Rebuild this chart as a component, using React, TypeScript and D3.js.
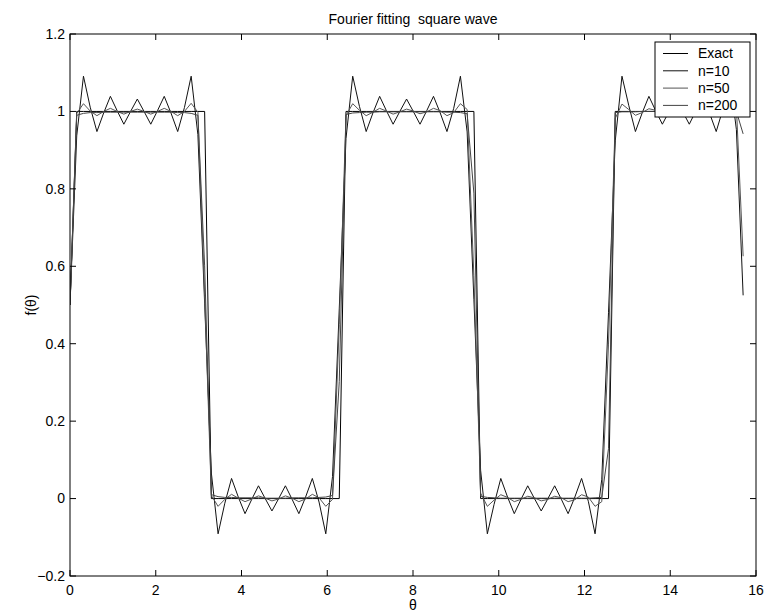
import React from "react";
import * as d3 from "d3";

// sample points (rad)
const theta = [
  0, 0.157, 0.314, 0.471, 0.628, 0.785, 0.942, 1.099, 1.256, 1.413,
  1.57, 1.727, 1.884, 2.041, 2.198, 2.355, 2.512, 2.669, 2.826, 2.983,
  3.14, 3.297, 3.454, 3.611, 3.768, 3.925, 4.082, 4.239, 4.396, 4.553,
  4.71, 4.867, 5.024, 5.181, 5.338, 5.495, 5.652, 5.809, 5.966, 6.123,
  6.28, 6.437, 6.594, 6.751, 6.908, 7.065, 7.222, 7.379, 7.536, 7.693,
  7.85, 8.007, 8.164, 8.321, 8.478, 8.635, 8.792, 8.949, 9.106, 9.263,
  9.42, 9.577, 9.734, 9.891, 10.048, 10.205, 10.362, 10.519, 10.676, 10.833,
  10.99, 11.147, 11.304, 11.461, 11.618, 11.775, 11.932, 12.089, 12.246, 12.403,
  12.56, 12.717, 12.874, 13.031, 13.188, 13.345, 13.502, 13.659, 13.816, 13.973,
  14.13, 14.287, 14.444, 14.601, 14.758, 14.915, 15.072, 15.229, 15.386, 15.543,
  15.7,
];

const exact = [
  0.5, 1, 1, 1, 1, 1, 1, 1, 1, 1,
  1, 1, 1, 1, 1, 1, 1, 1, 1, 1,
  1, 0, 0, 0, 0, 0, 0, 0, 0, 0,
  0, 0, 0, 0, 0, 0, 0, 0, 0, 0,
  0, 1, 1, 1, 1, 1, 1, 1, 1, 1,
  1, 1, 1, 1, 1, 1, 1, 1, 1, 1,
  1, 0, 0, 0, 0, 0, 0, 0, 0, 0,
  0, 0, 0, 0, 0, 0, 0, 0, 0, 0,
  0, 1, 1, 1, 1, 1, 1, 1, 1, 1,
  1, 1, 1, 1, 1, 1, 1, 1, 1, 1,
  1,
];

const n10 = [
  0.5, 0.937, 1.091, 1.011, 0.948, 0.996, 1.039, 1.002, 0.967, 1.0,
  1.032, 1.0, 0.967, 1.002, 1.039, 0.996, 0.948, 1.01, 1.091, 0.94,
  0.505, 0.066, -0.091, -0.012, 0.052, 0.004, -0.039, -0.002, 0.033, 0.0,
  -0.032, 0.0, 0.033, -0.002, -0.039, 0.004, 0.052, -0.009, -0.091, 0.057,
  0.49, 0.93, 1.091, 1.013, 0.948, 0.996, 1.039, 1.002, 0.967, 1.0,
  1.032, 1.0, 0.967, 1.002, 1.039, 0.996, 0.948, 1.008, 1.091, 0.947,
  0.515, 0.073, -0.091, -0.015, 0.052, 0.004, -0.039, -0.002, 0.033, 0.0,
  -0.032, 0.0, 0.033, -0.002, -0.039, 0.004, 0.052, -0.007, -0.091, 0.05,
  0.48, 0.924, 1.091, 1.016, 0.948, 0.996, 1.039, 1.002, 0.967, 1.0,
  1.032, 1.0, 0.967, 1.002, 1.039, 0.996, 0.948, 1.006, 1.091, 0.953,
  0.525,
];

const n50 = [
  0.5, 0.995, 1.02, 1.001, 0.989, 1.0, 1.008, 1.0, 0.993, 1.0,
  1.006, 1.0, 0.993, 1.0, 1.008, 1.0, 0.989, 1.0, 1.021, 0.998,
  0.525, 0.008, -0.02, -0.002, 0.011, 0.001, -0.008, -0.001, 0.007, 0.001,
  -0.006, -0.001, 0.007, 0.001, -0.008, -0.001, 0.011, 0.002, -0.02, -0.002,
  0.449, 0.989, 1.02, 1.003, 0.989, 0.998, 1.008, 1.001, 0.993, 0.999,
  1.006, 1.001, 0.994, 0.999, 1.008, 1.002, 0.989, 0.997, 1.02, 1.005,
  0.576, 0.014, -0.02, -0.004, 0.01, 0.003, -0.008, -0.002, 0.006, 0.002,
  -0.006, -0.002, 0.006, 0.002, -0.008, -0.003, 0.01, 0.004, -0.02, -0.008,
  0.399, 0.982, 1.019, 1.005, 0.99, 0.997, 1.007, 1.003, 0.994, 0.998,
  1.006, 1.002, 0.994, 0.998, 1.007, 1.003, 0.99, 0.995, 1.019, 1.011,
  0.626,
];

const n200 = [
  0.5, 0.99, 0.995, 0.997, 0.997, 0.998, 0.998, 0.998, 0.998, 0.998,
  0.998, 0.998, 0.998, 0.998, 0.998, 0.998, 0.997, 0.997, 0.995, 0.99,
  0.601, 0.01, 0.005, 0.003, 0.003, 0.002, 0.002, 0.002, 0.002, 0.001,
  0.001, 0.001, 0.001, 0.002, 0.002, 0.002, 0.002, 0.003, 0.004, 0.008,
  0.302, 0.992, 0.996, 0.997, 0.998, 0.998, 0.999, 0.999, 0.999, 0.999,
  0.999, 0.999, 0.999, 0.999, 0.999, 0.999, 0.998, 0.998, 0.997, 0.994,
  0.789, 0.006, 0.003, 0.002, 0.001, 0.001, 0.001, 0.001, 0.001, 0.001,
  0.001, 0.001, 0.001, 0.001, 0.001, 0.001, 0.001, 0.001, 0.002, 0.003,
  0.129, 0.997, 0.999, 0.999, 0.999, 1.0, 1.0, 1.0, 1.0, 1.0,
  1.0, 1.0, 1.0, 1.0, 1.0, 1.0, 1.0, 1.0, 1.0, 1.0,
  0.942,
];

const seriesNames = ["Exact", "n=10", "n=50", "n=200"];
const seriesColors = ["#000000", "#111111", "#555555", "#444444"];

const xTicks = [0, 2, 4, 6, 8, 10, 12, 14, 16];
const yTicks = [-0.2, 0, 0.2, 0.4, 0.6, 0.8, 1, 1.2];
const yTickLabels = ["\u22120.2", "0", "0.2", "0.4", "0.6", "0.8", "1", "1.2"];

const W = 768;
const H = 614;
const margin = { top: 34, right: 12, bottom: 38, left: 70 };
const font = "'Liberation Sans', Arial, Helvetica, sans-serif";

export default function App() {
  const x = d3.scaleLinear().domain([0, 16]).range([margin.left, W - margin.right]);
  const y = d3.scaleLinear().domain([-0.2, 1.2]).range([H - margin.bottom, margin.top]);

  const line = d3
    .line<number>()
    .x((_, i) => x(theta[i]))
    .y((d) => y(d));

  const series = [exact, n10, n50, n200];
  const x0 = x(0), x1 = x(16), y0 = y(-0.2), y1 = y(1.2);
  const tick = 6;

  // legend box
  const lg = { x: 655, y: 42, w: 95, h: 75 };

  return (
    <svg
      width={W}
      height={H}
      style={{ position: "absolute", left: 0, top: 0, background: "#fff" }}
      fontFamily={font}
    >
      <rect x={0} y={0} width={W} height={H} fill="#fff" />
      <defs>
        <clipPath id="plotclip">
          <rect x={x0} y={y1} width={x1 - x0} height={y0 - y1} />
        </clipPath>
      </defs>

      <g clipPath="url(#plotclip)">
        {series.map((s, i) => (
          <path
            key={seriesNames[i]}
            d={line(s) || ""}
            fill="none"
            stroke={seriesColors[i]}
            strokeWidth={1}
          />
        ))}
      </g>

      {/* axes box */}
      <rect x={x0} y={y1} width={x1 - x0} height={y0 - y1} fill="none" stroke="#000" strokeWidth={1} />

      {xTicks.map((t) => (
        <g key={"x" + t}>
          <line x1={x(t)} x2={x(t)} y1={y0} y2={y0 - tick} stroke="#000" />
          <line x1={x(t)} x2={x(t)} y1={y1} y2={y1 + tick} stroke="#000" />
          <text x={x(t)} y={y0 + 19} fontSize={14} textAnchor="middle">
            {t}
          </text>
        </g>
      ))}

      {yTicks.map((t, i) => (
        <g key={"y" + i}>
          <line x1={x0} x2={x0 + tick} y1={y(t)} y2={y(t)} stroke="#000" />
          <line x1={x1} x2={x1 - tick} y1={y(t)} y2={y(t)} stroke="#000" />
          <text x={x0 - 5} y={y(t)} dy="0.35em" fontSize={14} textAnchor="end">
            {yTickLabels[i]}
          </text>
        </g>
      ))}

      <text
        x={(x0 + x1) / 2}
        y={24}
        fontSize={14}
        textAnchor="middle"
        style={{ whiteSpace: "pre" }}
      >
        {"Fourier fitting  square wave"}
      </text>
      <text x={(x0 + x1) / 2} y={H - 4} fontSize={14} textAnchor="middle">
        θ
      </text>
      <text
        transform={`translate(36, ${(y0 + y1) / 2}) rotate(-90)`}
        fontSize={14}
        textAnchor="middle"
      >
        f(θ)
      </text>

      {/* legend */}
      <rect x={lg.x} y={lg.y} width={lg.w} height={lg.h} fill="#fff" stroke="#000" />
      {seriesNames.map((name, i) => {
        const ly = lg.y + 11.5 + i * 17.3;
        return (
          <g key={"lg" + name}>
            <line x1={lg.x + 8} x2={lg.x + 33} y1={ly} y2={ly} stroke={seriesColors[i]} />
            <text x={lg.x + 43} y={ly} dy="0.35em" fontSize={14}>
              {name}
            </text>
          </g>
        );
      })}
    </svg>
  );
}
